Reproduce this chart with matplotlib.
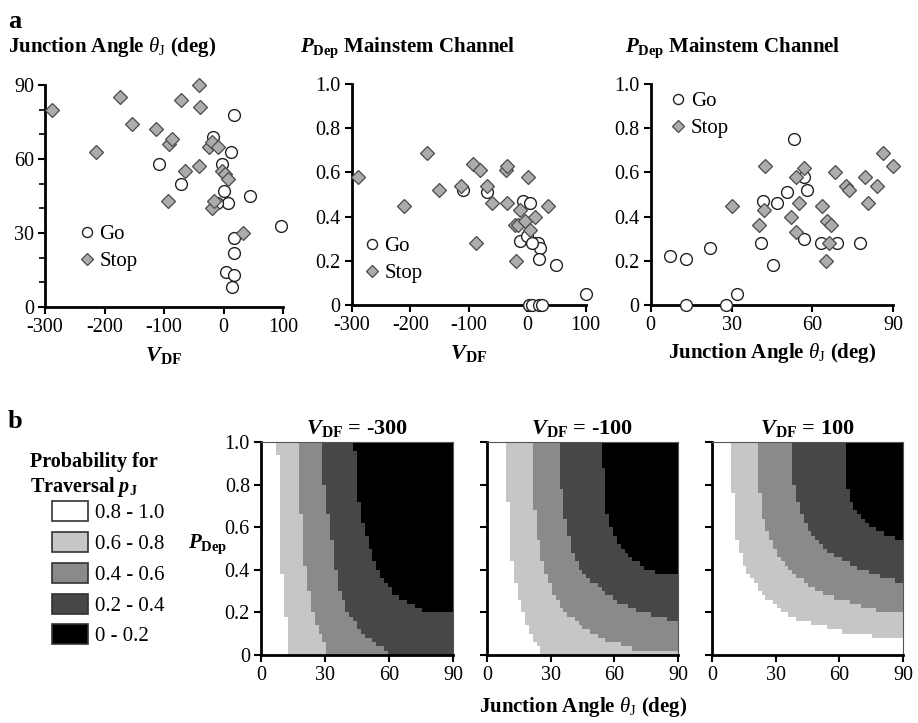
import numpy as np
import matplotlib
matplotlib.use("Agg")
import matplotlib.pyplot as plt
from matplotlib.colors import ListedColormap
from matplotlib.patches import Patch
from matplotlib.ticker import FuncFormatter, MultipleLocator

plt.rcParams["font.family"] = ["Liberation Serif", "DejaVu Serif"]
plt.rcParams["axes.unicode_minus"] = False
plt.rcParams["mathtext.fontset"] = "custom"
plt.rcParams["mathtext.rm"] = "Liberation Serif"
plt.rcParams["mathtext.it"] = "Liberation Serif:italic"
plt.rcParams["mathtext.bf"] = "Liberation Serif:bold"
plt.rcParams["mathtext.bfit"] = "Liberation Serif:italic:bold"

# ---- panel a data: Go (circles) and Stop (diamonds)
go_vdf = [17, -17, -108, -72, -2, 12, 1, 7, -11, 44, 96, 17, 17, 4, 17, 15]
go_theta = [78, 69, 58, 50, 58, 63, 47, 42, 42, 45, 33, 28, 22, 14, 13, 8]
stop_vdf = [-289, -214, -174, -154, -114, -93, -92, -86, -72, -65, -42, -40, -42,
            -25, -19, -19, -16, -9, -2, 2, 7, 32]
stop_theta = [80, 63, 85, 74, 72, 43, 66, 68, 84, 55, 90, 81, 57,
              65, 67, 40, 43, 65, 55, 54, 52, 30]

go_vdf2 = [-109, -69, -8, 5, -12, 0, 11, 19, 22, 21, 8, 49, 100, 3, 9, 20, 26]
go_pdep2 = [0.52, 0.51, 0.47, 0.46, 0.29, 0.31, 0.28, 0.28, 0.26, 0.21, 0.28, 0.18,
            0.05, 0, 0, 0, 0]
stop_vdf2 = [-289, -211, -172, -150, -113, -92, -81, -87, -68, -61, -37, -35, -35,
             -21, -15, -13, -4, -19, 1, 4, 13, 36]
stop_pdep2 = [0.58, 0.45, 0.69, 0.52, 0.54, 0.64, 0.61, 0.28, 0.54, 0.46, 0.61, 0.63,
              0.46, 0.36, 0.36, 0.43, 0.38, 0.20, 0.58, 0.34, 0.40, 0.45]

go_theta3 = [7, 13, 13, 22, 28, 32, 41.5, 41, 45.5, 47, 50.5, 53, 57, 58, 57, 63, 69, 77.5]
go_pdep3 = [0.22, 0.21, 0, 0.26, 0, 0.05, 0.47, 0.28, 0.18, 0.46, 0.51, 0.75,
            0.58, 0.52, 0.30, 0.28, 0.28, 0.28]
stop_theta3 = [30, 40, 42.5, 42, 52, 54, 55, 54, 57, 63.5, 65, 65.5, 67, 66,
               68.5, 72.5, 73.5, 79.5, 80.5, 84, 86, 90]
stop_pdep3 = [0.45, 0.36, 0.63, 0.43, 0.40, 0.58, 0.46, 0.33, 0.62, 0.45, 0.20, 0.38,
              0.36, 0.28, 0.60, 0.54, 0.52, 0.58, 0.46, 0.54, 0.69, 0.63]

# ---- panel b: class boundaries (theta, P), for p = 0.8, 0.6, 0.4, 0.2
vdf_values = [-300, -100, 100]
bounds_m300 = [
    [(8, 1.0), (8.3, 0.8), (8.8, 0.6), (9.7, 0.4), (11.5, 0.2), (13.6, 0.0)],
    [(18.3, 1.0), (18.6, 0.8), (19, 0.6), (21, 0.4), (24, 0.2), (28, 0.1), (31.5, 0.0)],
    [(29, 1.0), (29.6, 0.8), (32.5, 0.6), (35, 0.4), (37, 0.3), (40.5, 0.2), (48, 0.1), (61, 0.0)],
    [(44, 1.0), (44.5, 0.8), (48, 0.6), (51, 0.5), (54.5, 0.4), (62, 0.29), (69.4, 0.243),
     (75.3, 0.211), (76, 0.2), (90, 0.195)],
]
bounds_m100 = [
    [(9.3, 1.0), (10, 0.67), (11.5, 0.45), (14.3, 0.29), (18, 0.16), (21.5, 0.085), (26, 0.0)],
    [(21, 1.0), (21.5, 0.8), (23.3, 0.6), (26, 0.45), (31, 0.29), (37, 0.2), (45, 0.133),
     (56, 0.07), (69, 0.03), (90, 0.015)],
    [(34.4, 1.0), (34.7, 0.8), (37.5, 0.6), (40.6, 0.48), (44.5, 0.4), (49, 0.35), (56, 0.29),
     (63.5, 0.24), (73, 0.2), (85, 0.17), (90, 0.165)],
    [(54.5, 1.0), (55.5, 0.7), (58, 0.6), (62.5, 0.51), (69, 0.45), (75, 0.4), (85, 0.38), (90, 0.37)],
]
bounds_p100 = [
    [(9.3, 1.0), (10, 0.71), (11.6, 0.55), (14.5, 0.45), (17.5, 0.37), (24, 0.29), (32, 0.21),
     (41.5, 0.164), (52.5, 0.133), (62, 0.11), (77.6, 0.087), (90, 0.078)],
    [(21.4, 1.0), (21.9, 0.8), (24.3, 0.63), (29.8, 0.49), (32, 0.446), (36, 0.4), (44.7, 0.336),
     (52.5, 0.29), (66.6, 0.242), (77.6, 0.21), (90, 0.19)],
    [(38.3, 1.0), (38.5, 0.8), (41.4, 0.67), (47.7, 0.55), (55.6, 0.48), (66.6, 0.42), (79, 0.37),
     (90, 0.337)],
    [(63, 1.0), (64, 0.75), (68, 0.67), (74.5, 0.6), (85.5, 0.55), (90, 0.53)],
]
class_labels = ["0.8 - 1.0", "0.6 - 0.8", "0.4 - 0.6", "0.2 - 0.4", "0 - 0.2"]
class_colors = ["#ffffff", "#c6c6c6", "#8a8a8a", "#474747", "#000000"]

W, H = 918, 723
fig = plt.figure(figsize=(W / 100, H / 100), dpi=100)


def box(x0, x1, ytop, ybot):
    return [x0 / W, 1 - ybot / H, (x1 - x0) / W, (ybot - ytop) / H]


def style_axes(ax, thin_frame=False):
    for s in ["left", "bottom"]:
        ax.spines[s].set_linewidth(2)
    if thin_frame:
        for s in ["top", "right"]:
            ax.spines[s].set_linewidth(0.8)
            ax.spines[s].set_color("#555555")
    else:
        ax.spines["top"].set_visible(False)
        ax.spines["right"].set_visible(False)
    ax.tick_params(direction="out", length=5, width=1.5, labelsize=14.5, pad=3)
    ax.tick_params(which="minor", direction="out", length=4, width=1.2)


fmt01 = FuncFormatter(lambda v, _: "0" if abs(v) < 1e-9 else f"{v:.1f}")
label_kw = dict(fontsize=15, fontweight="bold")
vdf_label = r"$\mathbfit{V}_{\mathbf{DF}}$"
pdep = r"$\mathbfit{P}_{\mathbf{Dep}}$"
theta_lbl = r"Junction Angle $\theta_{\mathrm{J}}$ (deg)"


def scatter_pair(ax, gx, gy, sx, sy):
    ax.plot(gx, gy, "o", ms=8.5, mfc="white", mec="#222222", mew=1.0, ls="none",
            clip_on=False, label="Go", zorder=3)
    ax.plot(sx, sy, "D", ms=7, mfc="#acacac", mec="#4a4a4a", mew=0.9, ls="none",
            clip_on=False, label="Stop", zorder=4)


def small_legend(ax, anchor):
    ax.legend(loc="upper left", bbox_to_anchor=anchor, frameon=False, fontsize=15,
              handlelength=0.8, handletextpad=0.2, borderpad=0, borderaxespad=0,
              labelspacing=0.35, markerscale=0.85)


# a1
ax1 = fig.add_axes(box(45, 283, 85, 307))
scatter_pair(ax1, go_vdf, go_theta, stop_vdf, stop_theta)
ax1.set_xlim(-300, 100)
ax1.set_ylim(0, 90)
ax1.set_xticks([-300, -200, -100, 0, 100])
ax1.set_yticks([0, 30, 60, 90])
ax1.yaxis.set_minor_locator(MultipleLocator(10))
style_axes(ax1)
ax1.set_xlabel(vdf_label, fontsize=16, labelpad=6)
small_legend(ax1, (0.14, 0.37))

# a2
ax2 = fig.add_axes(box(351.7, 585.7, 84, 305))
scatter_pair(ax2, go_vdf2, go_pdep2, stop_vdf2, stop_pdep2)
ax2.set_xlim(-300, 100)
ax2.set_ylim(0, 1)
ax2.set_xticks([-300, -200, -100, 0, 100])
ax2.set_yticks(np.arange(0, 1.01, 0.2))
ax2.yaxis.set_major_formatter(fmt01)
style_axes(ax2)
ax2.set_xlabel(vdf_label, fontsize=16, labelpad=6)
small_legend(ax2, (0.05, 0.31))

# a3
ax3 = fig.add_axes(box(650.7, 893.3, 84, 305))
scatter_pair(ax3, go_theta3, go_pdep3, stop_theta3, stop_pdep3)
ax3.set_xlim(0, 90)
ax3.set_ylim(0, 1)
ax3.set_xticks([0, 30, 60, 90])
ax3.set_yticks(np.arange(0, 1.01, 0.2))
ax3.yaxis.set_major_formatter(fmt01)
style_axes(ax3)
ax3.set_xlabel(theta_lbl, labelpad=4, **label_kw)
small_legend(ax3, (0.08, 0.965))

fig.text(8 / W, 1 - 28 / H, "a", fontsize=19, fontweight="bold")
fig.text(8 / W, 1 - 52 / H, theta_lbl, fontsize=15, fontweight="bold")
fig.text(300 / W, 1 - 52 / H, pdep + " Mainstem Channel", fontsize=15, fontweight="bold")
fig.text(625 / W, 1 - 52 / H, pdep + " Mainstem Channel", fontsize=15, fontweight="bold")

# panel b maps
theta_edges = np.linspace(0, 90, 51)
p_edges = np.linspace(0, 1, 51)
tc = 0.5 * (theta_edges[:-1] + theta_edges[1:])
pc = 0.5 * (p_edges[:-1] + p_edges[1:])
TT, PP = np.meshgrid(tc, pc)
cmap = ListedColormap(class_colors)

b_boxes = [box(261, 453, 442, 655), box(487, 678, 442, 655), box(712, 903, 442, 655)]
for i, (vdf, bounds) in enumerate(zip(vdf_values, [bounds_m300, bounds_m100, bounds_p100])):
    ax = fig.add_axes(b_boxes[i])
    level = np.zeros_like(TT)
    for curve in bounds:
        th = np.array([c[0] for c in curve])
        pp = np.array([c[1] for c in curve])
        right = -1.0 if pp[-1] <= 0 else pp[-1]
        pb = np.interp(TT, th, pp, left=2.0, right=right)
        level += PP > pb
    ax.pcolormesh(theta_edges, p_edges, level, cmap=cmap, vmin=-0.5, vmax=4.5)
    ax.set_xlim(0, 90)
    ax.set_ylim(0, 1)
    ax.set_xticks([0, 30, 60, 90])
    ax.set_yticks(np.arange(0, 1.01, 0.2))
    ax.yaxis.set_major_formatter(fmt01)
    style_axes(ax, thin_frame=True)
    if i > 0:
        ax.tick_params(labelleft=False)
    else:
        ax.set_ylabel(pdep, fontsize=15, rotation=0, va="center", ha="right")
        ax.yaxis.set_label_coords(-0.175, 0.52)
    ax.set_title(vdf_label + f" = {vdf}", fontsize=16, fontweight="bold", pad=6)

fig.text(583 / W, 1 - 712 / H, theta_lbl, ha="center", fontsize=15, fontweight="bold")
fig.text(8 / W, 1 - 428 / H, "b", fontsize=19, fontweight="bold")
fig.text(30 / W, 1 - 492 / H, "Probability for\nTraversal " + r"$\mathbfit{p}_{\mathbf{J}}$",
         fontsize=14.5, fontweight="bold", linespacing=1.15)

handles = [Patch(facecolor=c, edgecolor="#333333", linewidth=1.2) for c in class_colors]
fig.legend(handles, class_labels, loc="upper left", bbox_to_anchor=(52 / W, 1 - 501 / H),
           frameon=False, fontsize=15, handlelength=1.75, handleheight=1.1,
           handletextpad=0.3, labelspacing=0.42, borderpad=0, borderaxespad=0)

fig.savefig("out.png", dpi=100)
